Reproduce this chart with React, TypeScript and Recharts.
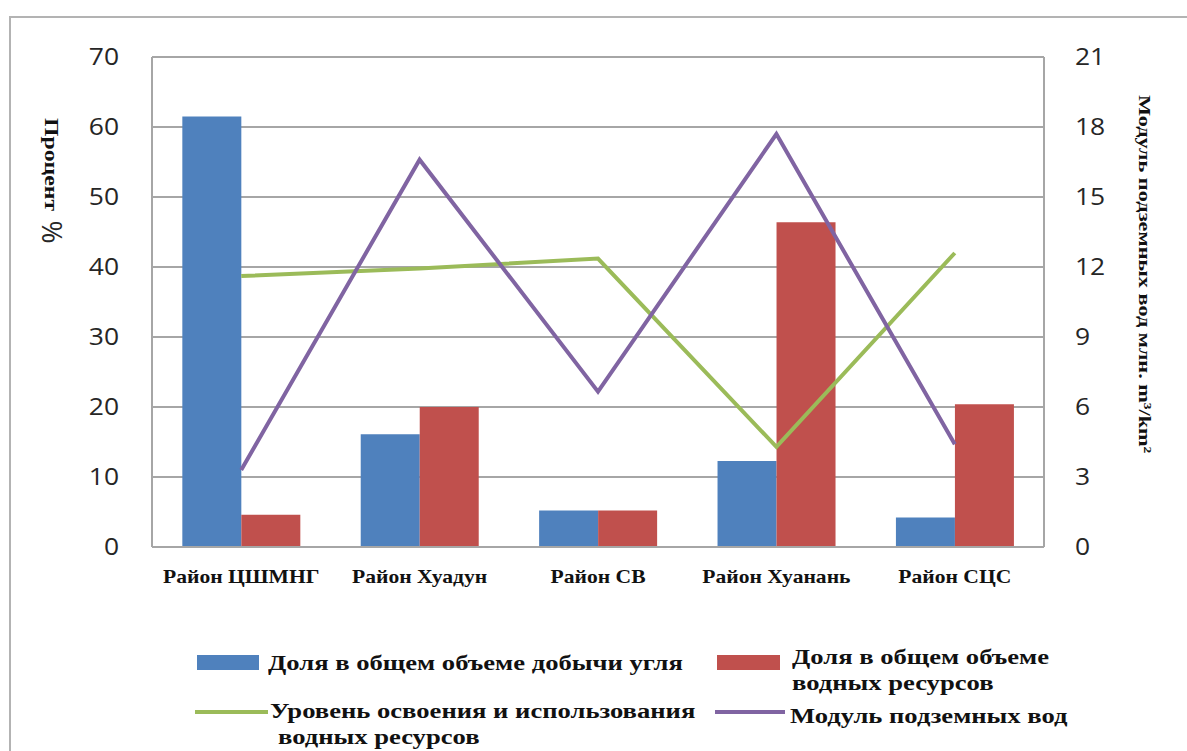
import React from "react";
import {
  ComposedChart,
  Bar,
  Line,
  XAxis,
  YAxis,
  CartesianGrid,
} from "recharts";

// districts
const categories = ["Район ЦШМНГ", "Район Хуадун", "Район СВ", "Район Хуанань", "Район СЦС"];
// share of coal output, %
const coalShare = [61.5, 16.1, 5.2, 12.3, 4.2];
// share of water resources, %
const waterShare = [4.6, 20, 5.2, 46.4, 20.4];
// water use level, %
const useLevel = [38.7, 39.8, 41.2, 14.3, 42.0];
// groundwater modulus, mln m3/km2
const groundModulus = [3.3, 16.6, 6.66, 17.7, 4.4];

const leftTicks = [0, 10, 20, 30, 40, 50, 60, 70];
const rightTicks = [0, 3, 6, 9, 12, 15, 18, 21];

const BLUE = "#4f81bd";
const RED = "#c0504d";
const GREEN = "#9bbb59";
const PURPLE = "#8064a2";
const GRID = "#a6a6a6";

const SERIF = "'Liberation Serif', 'Times New Roman', serif";
const SANS = "'Open Sans', 'Liberation Sans', sans-serif";

const rows = categories.map((name, i) => ({
  name,
  coal: coalShare[i],
  water: waterShare[i],
  level: useLevel[i],
  modulus: groundModulus[i],
}));

const LeftTick = (p: any) => (
  <text
    transform={`translate(${p.x},${p.y}) scale(1.15,1)`}
    textAnchor="end"
    dy="0.36em"
    fontFamily={SANS}
    fontSize={23}
    fill="#262626"
  >
    {p.payload.value}
  </text>
);

const RightTick = (p: any) => (
  <text
    transform={`translate(${p.x},${p.y}) scale(1.15,1)`}
    textAnchor="start"
    dy="0.36em"
    fontFamily={SANS}
    fontSize={23}
    fill="#262626"
  >
    {p.payload.value}
  </text>
);

const CatTick = (p: any) => (
  <text
    transform={`translate(${p.x},${p.y}) scale(1.2,1)`}
    textAnchor="middle"
    dy="0.35em"
    fontFamily={SERIF}
    fontWeight="bold"
    fontSize={18}
    fill="#111"
  >
    {p.payload.value}
  </text>
);

const legendText: React.CSSProperties = {
  position: "absolute",
  fontFamily: SERIF,
  fontWeight: "bold",
  fontSize: 20,
  lineHeight: "20px",
  color: "#111",
  whiteSpace: "nowrap",
  transform: "scaleX(1.33)",
  transformOrigin: "left center",
};

function Legendish() {
  return (
    <>
      <div style={{ position: "absolute", left: 197, top: 655, width: 62, height: 15, background: BLUE }} />
      <div style={{ ...legendText, left: 268, top: 653 }}>Доля в общем объеме добычи угля</div>

      <div style={{ position: "absolute", left: 717, top: 655, width: 63, height: 15, background: RED }} />
      <div style={{ ...legendText, left: 792, top: 647 }}>Доля в общем объеме</div>
      <div style={{ ...legendText, left: 792, top: 673 }}>водных ресурсов</div>

      <div style={{ position: "absolute", left: 195, top: 710, width: 73, height: 4, background: GREEN }} />
      <div style={{ ...legendText, left: 270, top: 701 }}>Уровень освоения и использования</div>
      <div style={{ ...legendText, left: 278, top: 727 }}>водных ресурсов</div>

      <div style={{ position: "absolute", left: 715, top: 710, width: 70, height: 4, background: PURPLE }} />
      <div style={{ ...legendText, left: 790, top: 706 }}>Модуль подземных вод</div>
    </>
  );
}

export default function App() {
  return (
    <div style={{ position: "absolute", left: 0, top: 0, width: 1187, height: 751, overflow: "hidden", background: "#fff" }}>
      <div
        style={{
          position: "absolute",
          left: 9,
          top: 16,
          width: 1300,
          height: 900,
          borderTop: "2px solid #b3b3b3",
          borderLeft: "2px solid #b3b3b3",
        }}
      />
      <div style={{ position: "absolute", left: 0, top: 0 }}>
        <ComposedChart
          width={1187}
          height={600}
          data={rows}
          margin={{ top: 57, right: 43, bottom: 13, left: 52 }}
          barCategoryGap="17%"
          barGap={0}
        >
          <CartesianGrid yAxisId="left" vertical={false} stroke={GRID} strokeWidth={2} />
          <XAxis
            dataKey="name"
            height={40}
            axisLine={{ stroke: GRID, strokeWidth: 2 }}
            tickLine={false}
            tickSize={0}
            tickMargin={30}
            tick={<CatTick />}
            interval={0}
          />
          <YAxis
            yAxisId="left"
            width={100}
            domain={[0, 70]}
            ticks={leftTicks}
            interval={0}
            axisLine={{ stroke: GRID, strokeWidth: 2 }}
            tickLine={false}
            tickSize={0}
            tickMargin={33}
            tick={<LeftTick />}
          />
          <YAxis
            yAxisId="right"
            orientation="right"
            width={100}
            domain={[0, 21]}
            ticks={rightTicks}
            interval={0}
            axisLine={{ stroke: GRID, strokeWidth: 2 }}
            tickLine={false}
            tickSize={0}
            tickMargin={31}
            tick={<RightTick />}
          />
          <Bar yAxisId="left" dataKey="coal" fill={BLUE} isAnimationActive={false} />
          <Bar yAxisId="left" dataKey="water" fill={RED} isAnimationActive={false} />
          <Line
            yAxisId="left"
            dataKey="level"
            stroke={GREEN}
            strokeWidth={4}
            dot={false}
            type="linear"
            isAnimationActive={false}
          />
          <Line
            yAxisId="right"
            dataKey="modulus"
            stroke={PURPLE}
            strokeWidth={4}
            dot={false}
            type="linear"
            isAnimationActive={false}
          />
          <text
            transform="translate(52,118) rotate(90) scale(1.25,1)"
            fontFamily={SERIF}
            fontWeight="bold"
            fontSize={19}
            fill="#111"
            dy="0.35em"
          >
            Процент
          </text>
          <text
            transform="translate(52,232) rotate(90)"
            fontFamily={SANS}
            fontSize={28}
            fill="#262626"
            textAnchor="middle"
            dy="0.35em"
          >
            %
          </text>
          <text
            transform="translate(1145,95) rotate(90) scale(1.31,1)"
            fontFamily={SERIF}
            fontWeight="bold"
            fontSize={17}
            fill="#111"
            dy="0.35em"
          >
            Модуль подземных вод млн. m³/km²
          </text>
        </ComposedChart>
      </div>
      <Legendish />
    </div>
  );
}
